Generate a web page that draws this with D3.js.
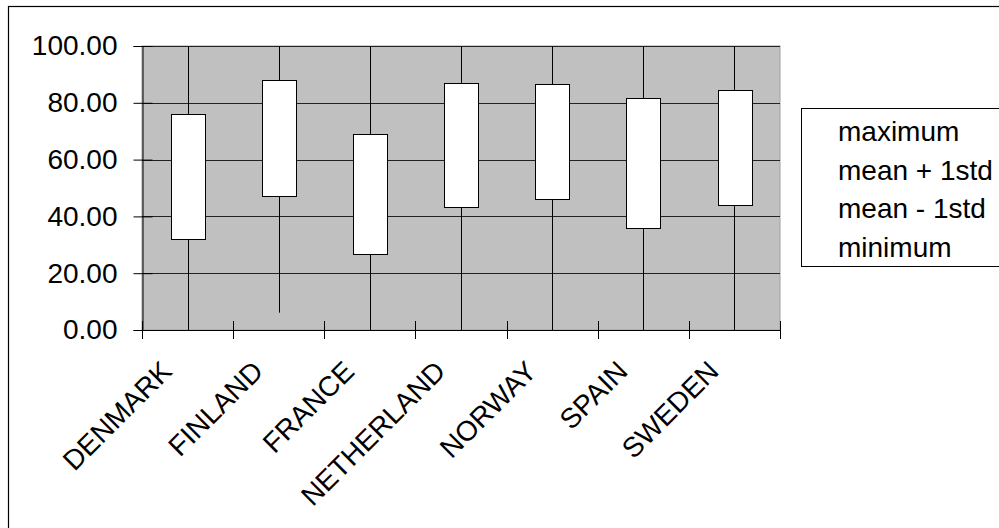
<!DOCTYPE html>
<html>
<head>
<meta charset="utf-8">
<script src="https://cdn.jsdelivr.net/npm/d3@7"></script>
<style>
  html, body { margin: 0; padding: 0; background: #fff; }
  svg { display: block; font-family: "Liberation Sans", Arial, sans-serif; }
</style>
</head>
<body>
<svg id="chart" width="999" height="528"></svg>
<script>
const categories = ["DENMARK", "FINLAND", "FRANCE", "NETHERLAND", "NORWAY", "SPAIN", "SWEDEN"];
const maximum   = [100, 100, 100, 100, 100, 100, 100];
const meanPlus  = [76.0, 88.1, 68.9, 87.1, 86.5, 81.7, 84.4];
const meanMinus = [32.2, 47.2, 26.9, 43.4, 46.1, 35.9, 44.0];
const minimum   = [0, 6.1, 0, 0, 0, 0, 0];
const yTicks = [0, 20, 40, 60, 80, 100];
const legendLabels = ["maximum", "mean + 1std", "mean - 1std", "minimum"];

const data = categories.map((c, i) => ({
  cat: c, max: maximum[i], hi: meanPlus[i], lo: meanMinus[i], min: minimum[i]
}));

const svg = d3.select("#chart");
const plot = { left: 142, top: 46, right: 780, bottom: 330 };

const x = d3.scaleBand().domain(categories).range([plot.left, plot.right]);
const y = d3.scaleLinear().domain([0, 100]).range([plot.bottom, plot.top]);

// outer chart border
svg.append("rect")
  .attr("x", 8.5).attr("y", 6.5).attr("width", 1100).attr("height", 600)
  .attr("fill", "#fff").attr("stroke", "#000").attr("stroke-width", 1.2);

// plot area
svg.append("rect")
  .attr("x", plot.left).attr("y", plot.top)
  .attr("width", plot.right - plot.left).attr("height", plot.bottom - plot.top)
  .attr("fill", "#c0c0c0").attr("stroke", "#a0a0a0").attr("stroke-width", 1);

// horizontal gridlines
svg.append("g").selectAll("line")
  .data(yTicks.filter(d => d > 0))
  .join("line")
  .attr("x1", plot.left).attr("x2", plot.right)
  .attr("y1", d => Math.round(y(d)) + 0.5).attr("y2", d => Math.round(y(d)) + 0.5)
  .attr("stroke", "#222").attr("stroke-width", 1);

// high-low lines
svg.append("g").selectAll("line")
  .data(data)
  .join("line")
  .attr("x1", d => Math.round(x(d.cat) + x.bandwidth() / 2) + 0.5)
  .attr("x2", d => Math.round(x(d.cat) + x.bandwidth() / 2) + 0.5)
  .attr("y1", d => y(d.max)).attr("y2", d => y(d.min))
  .attr("stroke", "#000").attr("stroke-width", 1);

// boxes (mean ± 1 std)
const bw = x.bandwidth() * 0.37;
svg.append("g").selectAll("rect")
  .data(data)
  .join("rect")
  .attr("x", d => Math.round(x(d.cat) + x.bandwidth() / 2 - bw / 2) + 0.5)
  .attr("y", d => Math.round(y(d.hi)) + 0.5)
  .attr("width", Math.round(bw))
  .attr("height", d => Math.round(y(d.lo)) - Math.round(y(d.hi)))
  .attr("fill", "#fff").attr("stroke", "#000").attr("stroke-width", 1);

// y axis
const yAxis = d3.axisLeft(y)
  .tickValues(yTicks)
  .tickFormat(d3.format(".2f"))
  .tickSize(9)
  .tickPadding(16);
const gy = svg.append("g")
  .attr("transform", `translate(${plot.left + 0.5},0)`)
  .call(yAxis);
gy.select(".domain").attr("stroke", "#000");
gy.selectAll(".tick line").attr("x1", 10).attr("stroke", "#000");
gy.selectAll(".tick text")
  .attr("font-size", 28).attr("fill", "#000")
  .attr("font-family", "Liberation Sans, Arial, sans-serif");

// x axis line + crossing tick marks at category boundaries
const gx = svg.append("g");
gx.append("line")
  .attr("x1", plot.left).attr("x2", plot.right + 0.5)
  .attr("y1", plot.bottom + 0.5).attr("y2", plot.bottom + 0.5)
  .attr("stroke", "#000");
const bounds = categories.map(c => x(c)).concat([x.range()[1]]);
gx.selectAll("line.tk")
  .data(bounds)
  .join("line").attr("class", "tk")
  .attr("x1", d => Math.round(d) + 0.5).attr("x2", d => Math.round(d) + 0.5)
  .attr("y1", plot.bottom - 9).attr("y2", plot.bottom + 9)
  .attr("stroke", "#000");

// rotated category labels
gx.selectAll("text")
  .data(categories)
  .join("text")
  .attr("transform", d => `translate(${x(d) + x.bandwidth() / 2 - 14},${plot.bottom + 43}) rotate(-45)`)
  .attr("text-anchor", "end")
  .attr("font-size", 28)
  .attr("fill", "#000")
  .text(d => d);

// legend
const lg = svg.append("g");
lg.append("rect")
  .attr("x", 801.5).attr("y", 108.5).attr("width", 300).attr("height", 158)
  .attr("fill", "#fff").attr("stroke", "#000").attr("stroke-width", 1);
lg.selectAll("text")
  .data(legendLabels)
  .join("text")
  .attr("x", 838)
  .attr("y", (d, i) => 141 + i * 38.7)
  .attr("font-size", 28)
  .attr("fill", "#000")
  .text(d => d);
</script>
</body>
</html>
